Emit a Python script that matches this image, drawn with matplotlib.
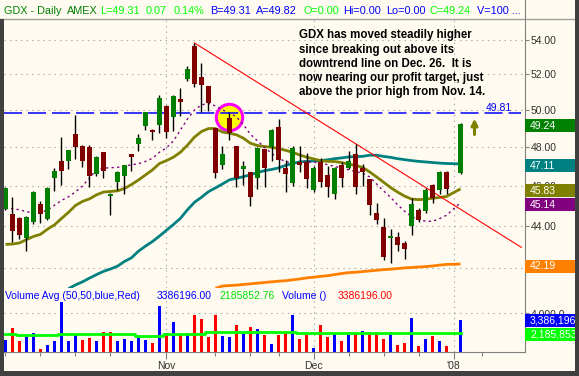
import numpy as np
import pandas as pd
import matplotlib
matplotlib.use('Agg')
import matplotlib.pyplot as plt
from matplotlib.patches import Rectangle
from matplotlib.transforms import IdentityTransform, offset_copy

plt.rcParams['font.family'] = ['Liberation Sans', 'DejaVu Sans']
plt.rcParams['lines.scale_dashes'] = False

# trading days on the chart (Jan 1 is an empty slot, no data)
dates = pd.bdate_range('2007-10-01', '2008-01-02')
dates = dates[~dates.isin(pd.to_datetime(['2007-11-22', '2007-12-25']))]

nan = np.nan
opens = [44.84, 44.58, 44.39, 43.44, 44.20, 45.08, 44.35, 46.40, 47.26, 47.28,
         48.69, 48.05, 48.00, 46.61, 47.72, 45.49, 46.20, 46.46, 47.60, 48.15,
         49.12, 48.91, 49.17, 50.21, 49.63, 50.60, 51.75, 53.66, 51.82, 51.32,
         49.00, 47.06, 49.56, 48.05, 46.83, 46.70, 46.40, 47.89, 48.00, 49.06,
         46.88, 46.12, 47.23, 47.23, 45.77, 47.20, 46.55, 45.59, 47.06, 46.88,
         47.60, 46.88, 46.32, 44.65, 43.95, 43.40, 43.45, 43.20, 43.97, 44.78,
         44.74, 46.04, 45.77, 46.71, nan, 46.66]
highs = [45.90, 45.43, 44.45, 44.46, 45.70, 45.23, 45.90, 46.92, 48.53, 47.85,
         49.72, 48.10, 48.10, 47.54, 47.75, 45.60, 46.76, 47.06, 47.60, 48.69,
         49.90, 48.96, 50.83, 50.25, 50.80, 51.24, 52.48, 53.82, 52.65, 51.35,
         49.00, 48.05, 49.81, 48.05, 47.26, 46.70, 48.00, 47.90, 48.95, 49.52,
         47.33, 48.02, 48.02, 47.67, 47.00, 47.41, 47.01, 46.97, 47.23, 47.78,
         48.15, 47.10, 46.35, 45.12, 44.37, 43.85, 43.69, 43.28, 45.36, 44.86,
         45.87, 46.10, 46.76, 46.76, nan, 49.30]
lows = [44.80, 43.24, 43.37, 42.80, 44.08, 44.15, 44.30, 45.74, 46.05, 46.85,
        47.38, 46.97, 45.90, 46.51, 46.36, 44.53, 45.77, 45.59, 46.76, 47.80,
        48.91, 48.37, 48.74, 48.47, 48.83, 49.67, 51.59, 51.30, 49.90, 49.95,
        46.40, 46.85, 48.36, 45.90, 46.05, 44.98, 45.80, 45.90, 47.26, 46.70,
        45.69, 46.00, 46.71, 45.87, 45.65, 45.90, 45.40, 45.30, 45.95, 46.83,
        45.59, 46.00, 44.55, 44.11, 42.40, 42.26, 42.80, 42.43, 43.56, 44.20,
        44.63, 45.13, 45.58, 45.55, nan, 46.58]
closes = [45.88, 43.77, 43.56, 44.44, 45.68, 44.60, 45.88, 46.72, 46.76, 47.82,
          48.00, 47.28, 46.46, 47.47, 46.76, 45.56, 46.71, 47.06, 47.46, 48.47,
          49.89, 48.77, 50.67, 48.77, 50.77, 50.45, 52.32, 51.44, 51.37, 50.40,
          46.66, 47.65, 48.74, 46.37, 46.99, 45.43, 47.96, 46.92, 48.91, 47.33,
          46.61, 47.93, 47.06, 46.33, 46.88, 46.20, 45.90, 46.88, 46.40, 47.26,
          45.90, 46.68, 45.03, 44.31, 42.52, 43.53, 43.08, 42.88, 45.08, 44.31,
          45.77, 45.36, 46.71, 45.80, nan, 49.24]

# volume in millions of shares
volume = [1.49, 2.66, 1.40, 1.78, 2.19, 0.64, 1.02, 1.40, 5.12, 1.40,
          2.06, 1.49, 1.68, 1.40, 2.25, 2.25, 1.40, 1.59, 1.40, 1.87,
          1.49, 1.21, 4.71, 2.16, 3.19, 2.06, 2.16, 3.86, 3.48, 1.78,
          3.86, 1.87, 1.78, 2.91, 2.06, 2.72, 2.53, 1.97, 1.12, 1.97,
          2.25, 3.86, 1.59, 1.97, 0.74, 2.91, 1.78, 2.06, 1.40, 1.97,
          2.16, 2.34, 2.25, 2.25, 1.59, 2.25, 1.02, 1.21, 3.57, 0.93,
          1.59, 1.87, 1.40, 0.93, nan, 3.386196]
vol_avg = [2.03, 2.03, 1.94, 1.94, 1.94, 1.94, 1.94, 1.94, 2.03, 2.03,
           2.03, 2.03, 2.03, 2.03, 2.03, 2.03, 2.03, 2.03, 2.03, 1.90,
           1.90, 1.90, 1.90, 2.06, 2.06, 2.06, 2.06, 2.06, 2.06, 2.22,
           2.22, 2.22, 2.22, 2.22, 2.22, 2.22, 2.22, 2.22, 2.22, 2.22,
           2.22, 2.22, 2.19, 2.19, 2.19, 2.19, 2.19, 2.19, 2.19, 2.19,
           2.19, 2.19, 2.19, 2.19, 2.19, 2.19, 2.19, 2.19, 2.19, 2.19,
           2.19, 2.19, 2.19, 2.19, nan, 2.18585276]

# moving averages as drawn on the chart
ma_fast = [44.84, 44.84, 44.79, 44.69, 44.64, 44.66, 44.77, 45.01, 45.25, 45.43,
           45.68, 45.98, 46.38, 46.81, 46.89, 46.91, 46.93, 46.99, 47.06, 47.12,
           47.24, 47.40, 47.72, 47.95, 48.32, 48.91, 49.50, 49.99, 50.27, 50.36,
           50.21, 49.99, 49.83, 49.61, 49.18, 48.67, 48.32, 47.97, 47.66, 47.41,
           47.22, 47.17, 47.17, 47.21, 47.20, 47.15, 47.07, 46.98, 46.89, 46.81,
           46.71, 46.64, 46.44, 46.08, 45.73, 45.41, 45.04, 44.72, 44.45, 44.30,
           44.23, 44.22, 44.35, 44.52, nan, 45.14]
ma_mid = [43.11, 43.13, 43.18, 43.34, 43.49, 43.59, 43.84, 44.05, 44.36, 44.66,
          45.00, 45.20, 45.33, 45.53, 45.67, 45.70, 45.73, 45.85, 46.05, 46.28,
          46.54, 46.80, 47.13, 47.28, 47.46, 47.72, 48.09, 48.52, 48.82, 48.98,
          48.98, 48.79, 48.73, 48.64, 48.46, 48.19, 48.07, 48.02, 47.98, 47.91,
          47.82, 47.71, 47.58, 47.46, 47.37, 47.28, 47.24, 47.23, 47.18, 47.10,
          47.03, 46.93, 46.70, 46.44, 46.17, 45.90, 45.67, 45.47, 45.32, 45.29,
          45.31, 45.36, 45.40, 45.45, nan, 45.83]
ma_slow = [nan, nan, nan, nan, nan, nan, nan, nan, nan, 41.06,
           41.23, 41.37, 41.54, 41.70, 41.85, 41.96, 42.09, 42.31, 42.48, 42.79,
           43.03, 43.25, 43.51, 43.79, 44.07, 44.37, 44.79, 45.16, 45.41, 45.69,
           45.88, 46.08, 46.29, 46.37, 46.45, 46.55, 46.66, 46.76, 46.82, 46.90,
           47.03, 47.13, 47.21, 47.24, 47.26, 47.28, 47.32, 47.38, 47.42, 47.47,
           47.49, 47.50, 47.56, 47.56, 47.50, 47.45, 47.38, 47.33, 47.28, 47.24,
           47.21, 47.18, 47.15, 47.13, nan, 47.11]
ma_long = [nan] * 30 + [
           41.08, 41.18, 41.20, 41.22, 41.25, 41.28, 41.31, 41.34, 41.37, 41.40,
           41.42, 41.46, 41.50, 41.55, 41.58, 41.62, 41.65, 41.70, 41.75, 41.79,
           41.81, 41.84, 41.87, 41.90, 41.93, 41.95, 41.98, 42.01, 42.03, 42.05,
           42.07, 42.10, 42.14, 42.17, nan, 42.19]

# downtrend line from the Nov 7 high, and the profit target
trend_x = [27, 73.7]
trend_y = [53.82, 42.97]
target = 49.81
price_ticks = [44, 46, 48, 50, 52, 54]
grid_prices = [42, 44, 46, 48, 50, 52, 54]

W, H = 579, 376
BG = '#FFFBF0'
TXT = '#303030'


def fx(px):
    return px / W


def fy(py):
    return 1 - py / H


fig = plt.figure(figsize=(W / 100, H / 100), dpi=100, facecolor=BG)
ax = fig.add_axes([fx(4), fy(288), fx(521), (288 - 19) / H])
axv = fig.add_axes([fx(4), fy(352), fx(521), (352 - 288) / H], sharex=ax)
for a in (ax, axv):
    a.set_facecolor(BG)
    for s in ('top', 'left', 'bottom'):
        a.spines[s].set_visible(False)
    a.spines['right'].set_color('#808080')

x = np.arange(len(dates))
o, h, l, c = (np.array(v, dtype=float) for v in (opens, highs, lows, closes))
ok = np.isfinite(c)

ax.set_yscale('log')
ax.set_ylim(41.09, 55.26)
ax.set_xlim(-0.21, 74.21)

# grid
for g in grid_prices:
    ax.axhline(g, color='#A8A8A8', lw=0.8, ls=(0, (1, 3)), zorder=0)
month_idx = [i for i in range(1, len(dates)) if dates[i].month != dates[i - 1].month]
for m in month_idx:
    ax.axvline(m, color='#A8A8A8', lw=0.8, ls=(0, (1, 3)), zorder=0)
    axv.axvline(m, color='#A8A8A8', lw=0.8, ls=(0, (1, 3)), zorder=0)

# Nov 14 high highlighted
circ = offset_copy(ax.transData, fig=fig, x=0, y=-2.7, units='points')
ax.plot([32], [h[32]], 'o', ms=19, mfc='#FFFF00', mec='#FF00FF', mew=2.2,
        transform=circ, zorder=1)


# moving averages
def plot_ma(vals, **kw):
    v = np.array(vals, dtype=float)
    m = np.isfinite(v)
    ax.plot(x[m], v[m], solid_capstyle='butt', **kw)


plot_ma(ma_long, color='#FF8000', lw=2.0, zorder=2)
plot_ma(ma_slow, color='#008080', lw=2.0, zorder=2)
plot_ma(ma_mid, color='#808000', lw=2.0, zorder=2)
plot_ma(ma_fast, color='#800080', lw=1.0, ls=(0, (1.6, 2.4)), zorder=2)

ax.axhline(target, xmax=0.992, color='#0000FF', lw=1.1, ls=(0, (13, 4.3)), zorder=2)
ax.plot(trend_x, trend_y, color='#FF0000', lw=0.8, zorder=2)

# candles
ax.vlines(x[ok], l[ok], h[ok], color='black', lw=1.0, zorder=3)
lo = np.minimum(o, c)
ht = np.maximum(np.abs(c - o), 0.05)
ax.bar(x[ok], ht[ok], bottom=lo[ok], width=0.62, linewidth=0, zorder=4,
       color=np.where(c[ok] >= o[ok], '#008000', '#800000'))

ax.text(72.4, target, '%.2f' % target, color='#0000FF', fontsize=7.5,
        ha='right', va='bottom')
ax.annotate('', xy=(x[-1] + 2, 49.52), xytext=(x[-1] + 2, 48.66),
            arrowprops=dict(arrowstyle='-|>', color='#808000', lw=2.2,
                            mutation_scale=9, shrinkA=0, shrinkB=0))

ax.set_yticks(price_ticks)
ax.set_yticklabels(['%.2f' % t for t in price_ticks])
ax.yaxis.set_minor_locator(matplotlib.ticker.NullLocator())
ax.yaxis.tick_right()
ax.tick_params(axis='y', colors='#808080', labelcolor=TXT, labelsize=7.5,
               length=3, width=0.8, pad=1)
ax.tick_params(axis='x', bottom=False, labelbottom=False)

# volume panel
vol = np.array(volume, dtype=float)
chg = pd.Series(closes).ffill().diff().fillna(1).values
vcol = np.where(chg >= 0, '#0000FF', '#FF0000')
vm = np.isfinite(vol)
axv.bar(x[vm], vol[vm], width=0.3, color=vcol[vm], linewidth=0, zorder=2)
va = np.array(vol_avg, dtype=float)
am = np.isfinite(va)
axv.plot(x[am], va[am], color='#00FF00', lw=2.0, drawstyle='steps-mid', zorder=3)
axv.set_ylim(0.36, 6.41)
axv.axhline(4.0, color='#A8A8A8', lw=0.8, ls=(0, (1, 3)), zorder=0)
axv.yaxis.tick_right()
axv.set_yticks([4.0])
axv.set_yticklabels(['4,000.0'])
axv.tick_params(axis='y', colors='#808080', labelcolor=TXT, labelsize=7.5,
                length=3, width=0.8, pad=1)

week_idx = [0, 5, 10, 15, 30, 35, 39, 49, 54, 59, 68]
axv.set_xticks(month_idx)
axv.set_xticklabels(['Nov', 'Dec', "'08"])
axv.set_xticks(week_idx, minor=True)
axv.spines['bottom'].set_visible(True)
axv.spines['bottom'].set_color('#808080')
axv.tick_params(axis='x', which='both', colors='#808080', labelcolor=TXT,
                labelsize=7.5, width=0.8)
axv.tick_params(axis='x', which='major', length=5, pad=1.5)
axv.tick_params(axis='x', which='minor', length=3)


# value boxes on the right axis
def value_box(a, val, text, fc, dy=-2):
    y = a.transData.transform((0, val))[1] + dy
    fig.patches.append(Rectangle((525, y - 6.5), 50, 13, transform=IdentityTransform(),
                                 facecolor=fc, edgecolor='none', zorder=5))
    fig.text(fx(530), y / H, text, color='white', fontsize=7.5, va='center',
             ha='left', zorder=6)


value_box(ax, c[-1], '%.2f' % c[-1], '#008000')
value_box(ax, ma_slow[-1], '%.2f' % ma_slow[-1], '#008080')
value_box(ax, ma_mid[-1], '%.2f' % ma_mid[-1], '#808000')
value_box(ax, ma_fast[-1], '%.2f' % ma_fast[-1], '#800080')
value_box(ax, ma_long[-1], '%.2f' % ma_long[-1], '#FF8000')
value_box(axv, vol[-1], '{:,.0f}'.format(vol[-1] * 1e6), '#0000FF', dy=-1)
value_box(axv, va[-1], '{:,.0f}'.format(va[-1] * 1e6), '#00FF00', dy=-2)

# header line
hdr = [(4, 'GDX - Daily', '#008000'), (67, 'AMEX', '#008000'),
       (100, 'L=%.2f' % 49.31, '#00FF00'), (146, '0.07', '#00FF00'),
       (174, '0.14%', '#00FF00'), (210, 'B=49.31', '#0000FF'),
       (256, 'A=49.82', '#0000FF'), (303, 'O=0.00', '#00FF00'),
       (343, 'Hi=0.00', '#0000FF'), (386, 'Lo=0.00', '#0000FF'),
       (430, 'C=%.2f' % c[-1], '#00FF00'), (477, 'V=100 ...', '#0000FF')]
for px, s, col in hdr:
    fig.text(fx(px), fy(10.8), s, color=col, fontsize=7.8, va='center', ha='left')
fig.add_artist(plt.Line2D([fx(0), fx(575)], [fy(19), fy(19)], color='#A0A0A0', lw=1))
fig.add_artist(plt.Line2D([fx(525), fx(525)], [fy(0), fy(19)], color='#808080', lw=0.8))

# volume legend
leg = [(5, 'Volume Avg (50,50,blue,Red)', '#0000FF'),
       (157, '{:.2f}'.format(vol[-1] * 1e6), '#0000FF'),
       (219, '{:.2f}'.format(va[-1] * 1e6), '#00E000'),
       (282, 'Volume ()', '#0000FF'),
       (338, '{:.2f}'.format(vol[-1] * 1e6), '#FF0000')]
for px, s, col in leg:
    fig.text(fx(px), fy(296), s, color=col, fontsize=7.5, va='center', ha='left')

# commentary
note = ['GDX has moved steadily higher',
        'since breaking out above its',
        'downtrend line on Dec. 26.  It is',
        'now nearing our profit target, just',
        'above the prior high from Nov. 14.']
for k, s in enumerate(note):
    fig.text(fx(299), fy(38.3 + 14.3 * k), s, fontsize=8.3, fontweight='bold',
             color='black', va='baseline', ha='left')

# window frame
for r in [(0, 0, 4, 357), (575, 0, 4, 376), (0, 0, 579, 5)]:
    fig.patches.append(Rectangle(r[:2], r[2], r[3], transform=IdentityTransform(),
                                 facecolor='#404040', edgecolor='none', zorder=10))

fig.savefig('out.png', dpi=100, facecolor=BG)
